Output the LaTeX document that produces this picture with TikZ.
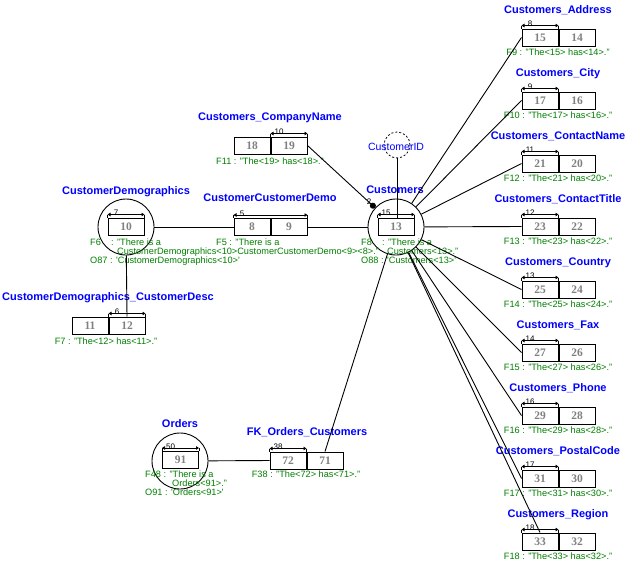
\documentclass[tikz,border=0pt]{standalone}
\usepackage{fontspec}
\setmainfont{Liberation Sans}
\newfontfamily\numfont{Liberation Serif}
\usetikzlibrary{arrows.meta}
\definecolor{tblue}{RGB}{0,0,255}
\definecolor{tgreen}{RGB}{0,128,0}
\definecolor{tgrey}{RGB}{128,128,128}
\tikzset{
 cell/.style={draw, line width=1pt, minimum width=36pt, minimum height=17pt, inner sep=0pt, font=\numfont\bfseries\fontsize{11.5}{11.5}\selectfont, text=tgrey},
 ttl/.style={anchor=base, inner sep=0pt, text=tblue, font=\bfseries\fontsize{11}{13}\selectfont},
 ftxt/.style={anchor=base, inner sep=0pt, text=tgreen, font=\fontsize{9.2}{10}\selectfont},
 ftxtl/.style={ftxt, anchor=base west},
 dimlab/.style={anchor=base, inner sep=0pt, font=\fontsize{8}{8}\selectfont},
 dimarr/.style={line width=0.9pt, {Triangle[length=3pt,width=3.5pt]}-{Triangle[length=3pt,width=3.5pt]}},
 dimtick/.style={line width=0.9pt},
 ent/.style={draw, circle, line width=0.9pt, minimum size=56pt, inner sep=0pt},
 link/.style={line width=0.9pt},
}
\newcommand\dimover[3]{%
 \draw[dimarr] ([yshift=3pt]#1.north west) -- ([yshift=3pt]#2.north east);
 \draw[dimtick] (#1.north west) -- ([yshift=3pt]#1.north west);
 \draw[dimtick] (#2.north east) -- ([yshift=3pt]#2.north east);
 \node[dimlab] (d#1) at ([xshift=8.5pt,yshift=1.7pt]#1.north west) {#3};}
\newcommand\rcol[6]{%
 \node[cell] (c#2) at (540,#1+8.5) {#2};
 \node[cell,anchor=west] (c#3) at (c#2.east) {#3};
 \node[ttl] (t#2) at (558,#1-16) {#4};
 \dimover{c#2}{c#2}{#5}
 \node[ftxt] (f#2) at (558,#1+26.5) {#6 : "The<#2> has<#3>."};}
\begin{document}
\begin{tikzpicture}[x=1pt,y=-1pt]
\useasboundingbox (0,0) rectangle (628,573);
\fill[white] (0,0) rectangle (628,573);
% Customers
\node[ent] (cust) at (396,227) {};
\node[cell] (c13) at (396,226.5) {13};
\dimover{c13}{c13}{15}
\node[ttl] (tcust) at (395,193.3) {Customers};
\node[draw, circle, dash pattern=on 2pt off 2pt, line width=0.8pt, minimum size=26pt, inner sep=0pt] (cid) at (397,145) {};
\node[anchor=base, inner sep=0pt, text=tblue, font=\fontsize{10.5}{12}\selectfont] (cidl) at (396,150) {CustomerID};
\draw[link] (cid.south) -- (cid.south |- c13.north);
% CustomerDemographics
\node[ent] (cd) at (126,227) {};
\node[cell] (c10) at (126,226.5) {10};
\dimover{c10}{c10}{7}
\node[ttl] (tcd) at (126,194) {CustomerDemographics};
% CustomerCustomerDemo
\node[cell] (c8) at (252,227) {8};
\node[cell,anchor=west] (c9) at (c8.east) {9};
\dimover{c8}{c9}{5}
\node[ttl] (tccd) at (270,201.7) {CustomerCustomerDemo};
% Customers_CompanyName
\node[cell] (c18) at (252,145.5) {18};
\node[cell,anchor=west] (c19) at (c18.east) {19};
\dimover{c19}{c19}{10}
\node[ttl] (tcn) at (270,120.7) {Customers\_CompanyName};
\node[ftxt] (f19) at (270,164) {F11 : "The<19> has<18>."};
% CustomerDemographics_CustomerDesc
\node[cell] (c11) at (90,325.5) {11};
\node[cell,anchor=west] (c12) at (c11.east) {12};
\dimover{c12}{c12}{6}
\node[ttl] (tcdd) at (108,300.7) {CustomerDemographics\_CustomerDesc};
\node[ftxt] (f12b) at (106,344) {F7 : "The<12> has<11>."};
% Orders
\node[ent] (ord) at (180,461) {};
\node[cell] (c91) at (180.5,460) {91};
\dimover{c91}{c91}{50}
\node[ttl] (tord) at (180,427.7) {Orders};
% FK_Orders_Customers
\node[cell] (c72) at (288,460.5) {72};
\node[cell,anchor=west] (c71) at (c72.east) {71};
\dimover{c72}{c72}{38}
\node[ttl] (tfk) at (307,435.7) {FK\_Orders\_Customers};
\node[ftxt] (f72) at (306,477.3) {F38 : "The<72> has<71>."};
% right column
\rcol{29}{15}{14}{Customers\_Address}{8}{F9}
\rcol{92}{17}{16}{Customers\_City}{9}{F10}
\rcol{155}{21}{20}{Customers\_ContactName}{11}{F12}
\rcol{218}{23}{22}{Customers\_ContactTitle}{12}{F13}
\rcol{281}{25}{24}{Customers\_Country}{13}{F14}
\rcol{344}{27}{26}{Customers\_Fax}{14}{F15}
\rcol{407}{29}{28}{Customers\_Phone}{16}{F16}
\rcol{470}{31}{30}{Customers\_PostalCode}{17}{F17}
\rcol{533}{33}{32}{Customers\_Region}{18}{F18}
% green fact texts
\node[ftxtl] (f6a) at (90,245) {F6\ \ \ \ : "There is a};
\node[ftxtl] (f6b) at (117,254) {CustomerDemographics<10>CustomerCustomerDemo<9><8>."};
\node[ftxtl] (o87) at (90,263.3) {O87 : \textquotesingle CustomerDemographics<10>\textquotesingle};
\node[ftxtl] (f5a) at (216,245) {F5 : "There is a};
\node[ftxtl] (f8a) at (361,245) {F8\ \ \ \ : "There is a};
\node[ftxtl] (f8b) at (387,254) {Customers<13>."};
\node[ftxtl] (o88) at (361,263.3) {O88 : \textquotesingle Customers<13>\textquotesingle};
\node[ftxtl] (f48a) at (145,477.3) {F48 : "There is a};
\node[ftxtl] (f48b) at (172,486.5) {Orders<91>."};
\node[ftxtl] (o91) at (145,495.7) {O91 : \textquotesingle Orders<91>\textquotesingle};
% connectors
\draw[link] (cd) -- (c8.west);
\draw[link] (c9.east) -- (cust);
\draw[link] (cd) -- (c12.north);
\draw[link,-{Circle[length=6pt]}] (c19.east) -- (cust);
\node[dimlab] (lab2) at (369,204) {2};
\draw[link] (ord) -- (c72.west);
\draw[link] (cust) -- (c71.north);
\draw[link] (cust) -- (c15.west);
\draw[link] (cust) -- (c17.west);
\draw[link] (cust) -- (c21.west);
\draw[link] (cust) -- (c23.west);
\draw[link] (cust) -- (c25.west);
\draw[link] (cust) -- (c27.west);
\draw[link] (cust) -- (c29.west);
\draw[link] (cust) -- (c31.west);
\draw[link] (cust) -- (c33.north);
\end{tikzpicture}
\end{document}
